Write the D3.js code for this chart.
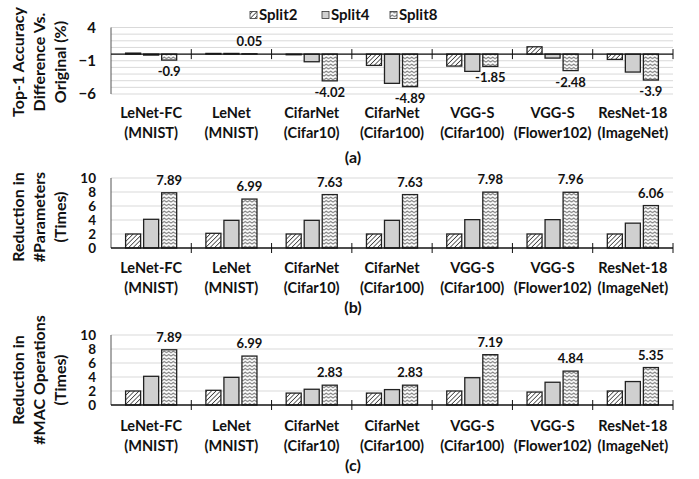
<!DOCTYPE html>
<html lang="en">
<head>
<meta charset="utf-8">
<title>Split accuracy / reduction</title>
<script src="https://cdn.jsdelivr.net/npm/d3@7"></script>
<style>
  body { margin: 0; background: #fff; }
  text { font-family: Lato, "Open Sans", sans-serif; font-weight: 700; fill: #111; }
</style>
</head>
<body>
<script>
// ---- data ----
var models   = ["LeNet-FC", "LeNet", "CifarNet", "CifarNet", "VGG-S", "VGG-S", "ResNet-18"];
var datasets = ["(MNIST)", "(MNIST)", "(Cifar10)", "(Cifar100)", "(Cifar100)", "(Flower102)", "(ImageNet)"];
var series   = ["Split2", "Split4", "Split8"];

// (a) top-1 accuracy difference (%)
var accSplit2 = [0.15, 0.1, -0.1, -1.7, -1.8, 1.1, -0.8];
var accSplit4 = [-0.15, 0.1, -1.15, -4.4, -2.6, -0.6, -2.7];
var accSplit8 = [-0.9, 0.05, -4.02, -4.89, -1.85, -2.48, -3.9];
var accTicks  = [4, -1, -6];

// (b) reduction in #parameters (times)
var parSplit2 = [2, 2.1, 2, 2, 2, 2, 2];
var parSplit4 = [4.1, 3.95, 3.95, 3.95, 4.05, 4.05, 3.55];
var parSplit8 = [7.89, 6.99, 7.63, 7.63, 7.98, 7.96, 6.06];

// (c) reduction in #MAC operations (times)
var macSplit2 = [2, 2.1, 1.7, 1.7, 2, 1.85, 2];
var macSplit4 = [4.1, 3.95, 2.25, 2.2, 3.9, 3.25, 3.35];
var macSplit8 = [7.89, 6.99, 2.83, 2.83, 7.19, 4.84, 5.35];
var redTicks  = [0, 2, 4, 6, 8, 10];

var W = 699, H = 479;
var svg = d3.select("body").append("svg").attr("width", W).attr("height", H);

// fill patterns
var defs = svg.append("defs");
var hatch = defs.append("pattern").attr("id", "p-split2")
  .attr("patternUnits", "userSpaceOnUse").attr("width", 3.2).attr("height", 3.2)
  .attr("patternTransform", "rotate(45)");
hatch.append("rect").attr("width", 3.2).attr("height", 3.2).attr("fill", "#fff");
hatch.append("line").attr("x1", 0).attr("y1", 0).attr("x2", 0).attr("y2", 3.2)
  .attr("stroke", "#333").attr("stroke-width", 1.5);

var wave = defs.append("pattern").attr("id", "p-split8")
  .attr("patternUnits", "userSpaceOnUse").attr("width", 4.5).attr("height", 3.5);
wave.append("rect").attr("width", 4.5).attr("height", 3.5).attr("fill", "#fff");
wave.append("path").attr("d", "M0,2.8 L2.25,1 L4.5,2.8").attr("fill", "none")
  .attr("stroke", "#555").attr("stroke-width", 0.9);

var fills = {Split2: "url(#p-split2)", Split4: "#d0d0d0", Split8: "url(#p-split8)"};

// shared horizontal layout
var x = d3.scaleBand().domain(d3.range(models.length)).range([111, 673]);
var xs = d3.scaleBand().domain(series).range([0, x.bandwidth()])
  .paddingInner(1 / 6).paddingOuter(0.81);

function drawPanel(p) {
  var y = d3.scaleLinear().domain(p.domain).range(p.range);
  var g = svg.append("g");
  var y0 = y(0);

  // gridlines
  g.selectAll(".grid").data(p.grid).enter().append("line")
    .attr("x1", 111).attr("x2", 673)
    .attr("y1", function(d) { return y(d); }).attr("y2", function(d) { return y(d); })
    .attr("stroke", "#d9d9d9").attr("stroke-width", 1);

  // y axis tick labels
  var ax = g.append("g").attr("transform", "translate(96,0)")
    .call(d3.axisLeft(y).tickValues(p.ticks).tickSize(0).tickPadding(0).tickFormat(d3.format("d")));
  ax.select(".domain").remove();
  ax.selectAll("text").attr("font-size", p.tickSize).attr("font-family", "Lato, sans-serif")
    .attr("font-weight", 700).attr("fill", "#111");

  g.append("line").attr("x1", 111).attr("x2", 111)
    .attr("y1", y(p.domain[1])).attr("y2", y(p.domain[0]))
    .attr("stroke", "#555").attr("stroke-width", 1);

  // bars
  var rows = [];
  models.forEach(function(m, i) {
    series.forEach(function(s, j) {
      rows.push({i: i, s: s, v: p.values[j][i]});
    });
  });
  g.selectAll(".bar").data(rows).enter().append("rect")
    .attr("x", function(d) { return x(d.i) + xs(d.s); })
    .attr("width", xs.bandwidth())
    .attr("y", function(d) { return Math.min(y(d.v), y0); })
    .attr("height", function(d) { return Math.abs(y(d.v) - y0); })
    .attr("fill", function(d) { return fills[d.s]; })
    .attr("stroke", "#222").attr("stroke-width", 1.3);

  // value labels on Split8
  g.selectAll(".val").data(p.values[2]).enter().append("text")
    .attr("x", function(d, i) { return x(i) + xs("Split8") + xs.bandwidth() / 2; })
    .attr("y", function(d) { return d >= 0 ? y(d) - 8 : y(d) + 16; })
    .attr("text-anchor", "middle").attr("font-size", 13)
    .text(function(d) { return String(d); });

  // baseline + category separators
  g.append("line").attr("x1", 111).attr("x2", 673).attr("y1", y0).attr("y2", y0)
    .attr("stroke", "#111").attr("stroke-width", 1.3);
  g.selectAll(".sep").data(d3.range(1, models.length + 1)).enter().append("line")
    .attr("x1", function(d) { return d < models.length ? x(d) : 673; })
    .attr("x2", function(d) { return d < models.length ? x(d) : 673; })
    .attr("y1", y0 - 5).attr("y2", y0 + 5)
    .attr("stroke", "#111").attr("stroke-width", 1);

  // category labels
  var cat = g.selectAll(".cat").data(models).enter().append("text")
    .attr("text-anchor", "middle").attr("font-size", 14.5)
    .attr("x", function(d, i) { return x(i) + x.bandwidth() / 2; })
    .attr("y", p.catY);
  cat.append("tspan").text(function(d) { return d; });
  cat.append("tspan").attr("x", function(d, i) { return x(i) + x.bandwidth() / 2; })
    .attr("dy", 20).text(function(d, i) { return datasets[i]; });

  // rotated y title
  p.title.forEach(function(t, k) {
    g.append("text").attr("text-anchor", "middle").attr("font-size", 16)
      .attr("transform", "translate(" + (24 + 21 * k) + "," + p.titleY + ") rotate(-90)")
      .text(t);
  });

  // panel caption
  g.append("text").attr("x", 353).attr("y", p.capY).attr("text-anchor", "middle")
    .attr("font-size", 16).text(p.cap);
}

drawPanel({
  domain: [-6, 4], range: [94, 27.5], grid: d3.range(-6, 5), ticks: accTicks, tickSize: 15,
  values: [accSplit2, accSplit4, accSplit8], catY: 118, titleY: 62,
  title: ["Top-1 Accuracy", "Difference Vs.", "Original (%)"], cap: "(a)", capY: 163
});
drawPanel({
  domain: [0, 10], range: [248, 178], grid: redTicks.slice(1), ticks: redTicks, tickSize: 13.5,
  values: [parSplit2, parSplit4, parSplit8], catY: 273, titleY: 217,
  title: ["Reduction in", "#Parameters", "(Times)"], cap: "(b)", capY: 313
});
drawPanel({
  domain: [0, 10], range: [405, 335], grid: redTicks.slice(1), ticks: redTicks, tickSize: 13.5,
  values: [macSplit2, macSplit4, macSplit8], catY: 431, titleY: 380,
  title: ["Reduction in", "#MAC Operations", "(Times)"], cap: "(c)", capY: 471
});

// legend
var legX = [250, 322, 390];
var leg = svg.append("g").selectAll("g").data(series).enter().append("g")
  .attr("transform", function(d, i) { return "translate(" + legX[i] + ",0)"; });
leg.append("rect").attr("x", 0).attr("y", 11.5).attr("width", 7).attr("height", 7)
  .attr("fill", function(d) { return fills[d]; }).attr("stroke", "#333").attr("stroke-width", 0.8);
leg.append("text").attr("x", 9).attr("y", 19.5).attr("font-size", 15).text(function(d) { return d; });
</script>
</body>
</html>
